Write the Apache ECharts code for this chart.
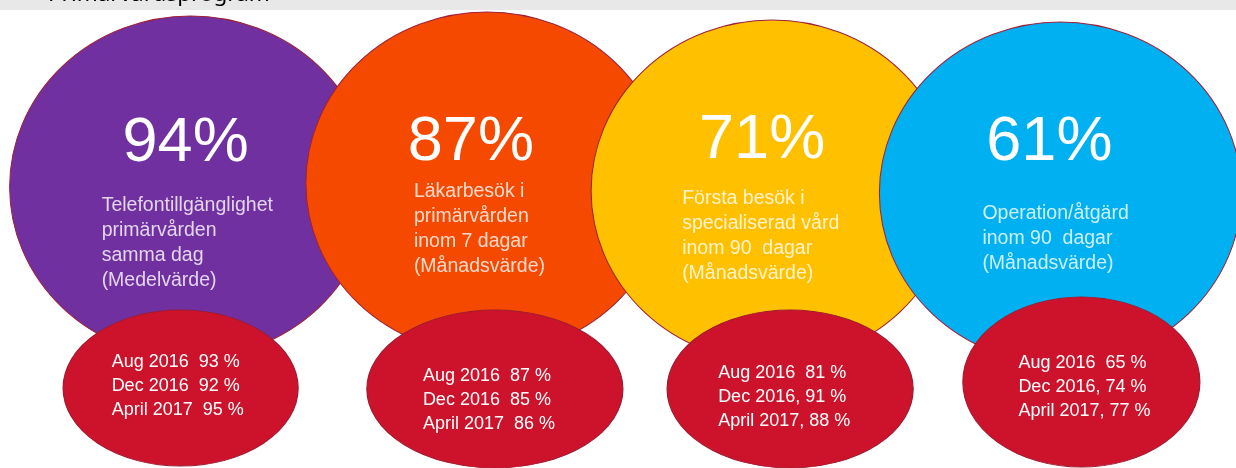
<!DOCTYPE html>
<html>
<head>
<meta charset="utf-8">
<title>Primärvårdsprogram</title>
<script src="https://cdn.jsdelivr.net/npm/echarts@6/dist/echarts.min.js"></script>
<style>
    html, body { margin: 0; padding: 0; background: #fff; }
    #chart { width: 1236px; height: 468px; }
</style>
</head>
<body>
<div id="chart"></div>
<script>
    // mätetal och senaste utfall
    const measures = ['Telefontillgänglighet', 'Läkarbesök', 'Första besök', 'Operation/åtgärd'];
    const currentValues = [94, 87, 71, 61];
    const descriptions = [
        ['Telefontillgänglighet', 'primärvården', 'samma dag', '(Medelvärde)'],
        ['Läkarbesök i', 'primärvården', 'inom 7 dagar', '(Månadsvärde)'],
        ['Första besök i', 'specialiserad vård', 'inom 90  dagar', '(Månadsvärde)'],
        ['Operation/åtgärd', 'inom 90  dagar', '(Månadsvärde)']
    ];
    // tidigare mätningar
    const periods = ['Aug 2016', 'Dec 2016', 'April 2017'];
    const history = [
        [93, 92, 95],
        [87, 85, 86],
        [81, 91, 88],
        [65, 74, 77]
    ];
    const separators = [
        ['  ', '  ', '  '],
        ['  ', '  ', '  '],
        ['  ', ', ', ', '],
        ['  ', ', ', ', ']
    ];
    const rows = ['Senaste', 'Historik'];

    // utseende
    const circleColors = ['#7030A0', '#F54900', '#FFC000', '#00B0F0'];
    const circleShift = [[-3, -1], [4, -5], [0, 3], [-1, 5]];
    const pctShift = [[-5, -43], [-16, -40], [-10, -50], [-11, -50]];
    const descShift = [[-89, 6], [-73, -4], [-90, -5], [-78, 8]];
    const ovalSize = [[235, 156], [256, 158], [246, 158], [237, 170]];
    const ovalShift = [[-13, 0], [12, 1], [18, 1], [20, -6]];
    const ovalTextShift = [[-69, -38], [-72, -25], [-72, -28], [-63, -31]];
    const ellipse = 'path://M0,50A50,50,0,1,1,100,50A50,50,0,1,1,0,50Z';
    const font = 'Liberation Sans, Arial, sans-serif';

    const circleData = currentValues.map(function (v, i) {
        return {
            value: [i, 0],
            symbolOffset: circleShift[i],
            itemStyle: { color: circleColors[i] },
            label: { offset: pctShift[i] }
        };
    });
    const descData = descriptions.map(function (d, i) {
        return {
            value: [i, 0],
            symbolOffset: circleShift[i],
            label: { offset: descShift[i] }
        };
    });
    const ovalData = history.map(function (h, i) {
        return {
            value: [i, 1],
            symbolSize: ovalSize[i],
            symbolOffset: ovalShift[i],
            label: { offset: ovalTextShift[i] }
        };
    });

    const chart = echarts.init(document.getElementById('chart'));
    chart.setOption({
        animation: false,
        title: {
            text: 'Primärvårdsprogram',
            left: 48,
            top: -17,
            padding: 0,
            z: 10,
            textStyle: { fontFamily: 'Noto Sans', fontSize: 22.5, fontWeight: 'normal', color: '#000' }
        },
        graphic: [{
            type: 'rect',
            left: 0,
            top: 0,
            z: 1,
            shape: { width: 1236, height: 10 },
            style: { fill: '#E8E8E8' }
        }],
        grid: { left: 49, right: 30, top: 188, height: 200 },
        xAxis: { type: 'category', data: measures, show: false },
        yAxis: { type: 'category', data: rows, inverse: true, boundaryGap: false, show: false },
        series: [
            {
                name: 'Senaste',
                type: 'scatter',
                silent: true,
                clip: false,
                z: 2,
                symbol: ellipse,
                symbolSize: [362, 342],
                itemStyle: { opacity: 1, borderColor: '#9E2139', borderWidth: 1 },
                label: {
                    show: true,
                    position: 'inside',
                    color: '#fff',
                    fontFamily: font,
                    fontSize: 63,
                    formatter: function (p) { return currentValues[p.dataIndex] + '%'; }
                },
                data: circleData
            },
            {
                name: 'Beskrivning',
                type: 'scatter',
                silent: true,
                clip: false,
                z: 3,
                symbolSize: 1,
                itemStyle: { color: 'rgba(0,0,0,0)' },
                label: {
                    show: true,
                    position: 'inside',
                    align: 'left',
                    verticalAlign: 'top',
                    color: '#fff',
                    fontFamily: font,
                    fontSize: 19.5,
                    lineHeight: 25,
                    formatter: function (p) { return descriptions[p.dataIndex].join('\n'); }
                },
                data: descData
            },
            {
                name: 'Historik',
                type: 'scatter',
                silent: true,
                clip: false,
                z: 4,
                symbol: ellipse,
                itemStyle: { color: '#CD132B', opacity: 1, borderColor: '#9E1B32', borderWidth: 1 },
                label: {
                    show: true,
                    position: 'inside',
                    align: 'left',
                    verticalAlign: 'top',
                    color: '#fff',
                    fontFamily: font,
                    fontSize: 18,
                    lineHeight: 24,
                    formatter: function (p) {
                        const i = p.dataIndex;
                        return periods.map(function (per, j) {
                            return per + separators[i][j] + history[i][j] + ' %';
                        }).join('\n');
                    }
                },
                data: ovalData
            }
        ]
    });
</script>
</body>
</html>
